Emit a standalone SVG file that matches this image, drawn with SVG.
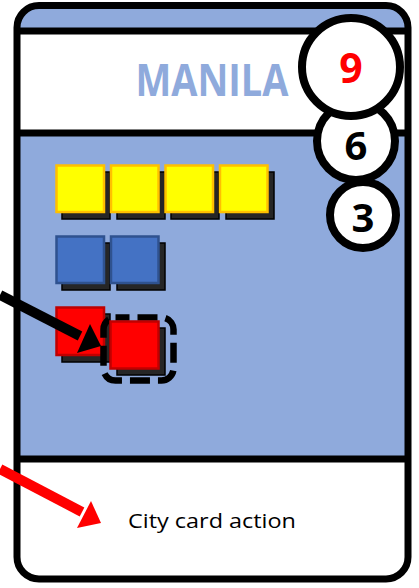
<svg xmlns="http://www.w3.org/2000/svg" width="419" height="588" viewBox="0 0 419 588">
<style>
.ln{stroke:#000;stroke-width:7;fill:none}
.circ{fill:#fff;stroke:#000;stroke-width:8}
.num{font-family:"Open Sans","Liberation Sans",sans-serif;font-weight:bold;text-anchor:middle}
.sh{fill:#262626;stroke:#000;stroke-width:1.5}
.y{fill:#FFFF00;stroke:#FFC000;stroke-width:2.5}
.b{fill:#4472C4;stroke:#2F528F;stroke-width:2.5}
.r{fill:#FF0000;stroke:#C00000;stroke-width:2.5}
</style>
<rect width="419" height="588" fill="#fff"/>
<g id="card">
<rect x="17" y="5.5" width="391" height="573.5" rx="22" fill="#8FAADC"/>
<rect x="17" y="31" width="391" height="102" fill="#fff"/>
<path d="M17,459 H408 V557 A22,22 0 0 1 386,579 H39 A22,22 0 0 1 17,557 Z" fill="#fff"/>
<line class="ln" x1="17" y1="31" x2="408" y2="31"/>
<line class="ln" x1="17" y1="133" x2="408" y2="133" stroke-width="8"/>
<line class="ln" x1="17" y1="459" x2="408" y2="459"/>
<rect class="ln" x="17" y="5.5" width="391" height="573.5" rx="22"/>
<text x="212" y="96" font-family="'Open Sans','Liberation Sans',sans-serif" font-weight="bold" font-size="45" fill="#8FAADC" text-anchor="middle" textLength="153" lengthAdjust="spacingAndGlyphs">MANILA</text>
<text x="212" y="528" font-family="'Open Sans','Liberation Sans',sans-serif" font-size="20" fill="#000" text-anchor="middle" textLength="168" lengthAdjust="spacingAndGlyphs">City card action</text>
</g>
<g id="circle-3">
<circle class="circ" cx="363" cy="215" r="33"/>
<text class="num" x="363" y="232" font-size="40" fill="#000">3</text>
</g>
<g id="circle-6">
<circle class="circ" cx="356" cy="141" r="39"/>
<text class="num" x="356" y="160" font-size="40" fill="#000">6</text>
</g>
<g id="circle-9">
<circle class="circ" cx="351" cy="67" r="49"/>
<text class="num" x="351" y="83" font-size="41" fill="#FF0000">9</text>
</g>
<g id="yellow-cubes">
<rect class="sh" x="62" y="172" width="48" height="47"/>
<rect class="sh" x="117" y="172" width="48" height="47"/>
<rect class="sh" x="171" y="172" width="48" height="47"/>
<rect class="sh" x="226" y="172" width="48" height="47"/>
<rect class="y" x="56.5" y="165.5" width="47.5" height="46.5"/>
<rect class="y" x="111" y="165.5" width="47.5" height="46.5"/>
<rect class="y" x="165.5" y="165.5" width="47.5" height="46.5"/>
<rect class="y" x="220" y="165.5" width="47.5" height="46.5"/>
</g>
<g id="blue-cubes">
<rect class="sh" x="62" y="243" width="48" height="47"/>
<rect class="sh" x="117" y="243" width="48" height="47"/>
<rect class="b" x="56.5" y="236.5" width="47.5" height="46.5"/>
<rect class="b" x="111" y="236.5" width="47.5" height="46.5"/>
</g>
<g id="red-cube-1">
<rect class="sh" x="62" y="314" width="48" height="48"/>
<rect class="r" x="56.5" y="307.5" width="47.5" height="47.5"/>
</g>
<g id="connectors">
<line x1="0" y1="295" x2="80" y2="336" stroke="#000" stroke-width="10"/>
<polygon points="101,346 77,353 90,324" fill="#000"/>
<line x1="0" y1="469" x2="82" y2="512" stroke="#FF0000" stroke-width="10"/>
<polygon points="101,523 77,528 91,501" fill="#FF0000"/>
</g>
<g id="red-cube-2">
<rect x="103.5" y="317.5" width="70" height="63" rx="12" fill="none" stroke="#000" stroke-width="6.5" stroke-dasharray="20 8" stroke-dashoffset="6"/>
<rect class="sh" x="117" y="328" width="48" height="47"/>
<rect class="r" x="110.5" y="321.5" width="48" height="47"/>
</g>
</svg>
